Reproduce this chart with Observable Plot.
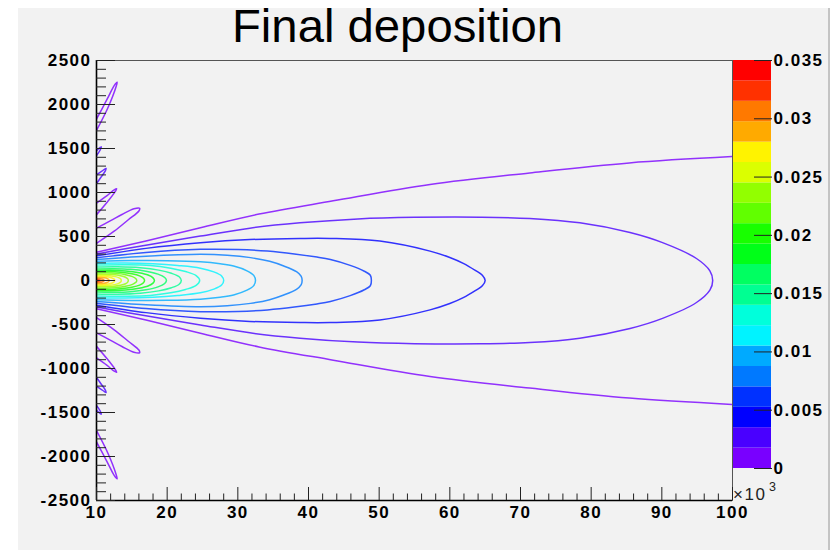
<!DOCTYPE html>
<html><head><meta charset="utf-8">
<script src="https://cdn.jsdelivr.net/npm/d3@7"></script>
<script src="https://cdn.jsdelivr.net/npm/@observablehq/plot@0.6"></script>
<style>
html,body{margin:0;padding:0;background:#fff;}
#wrap{position:relative;width:838px;height:550px;overflow:hidden;background:#fff;font-family:"Liberation Sans",Arial,sans-serif;}
#pad{position:absolute;left:18px;top:8px;width:810px;height:542px;background:#f2f2f2;border-right:2px solid #c4c4c4;}
#main,#bar,#title{position:absolute;top:0;}
#main{left:0;}
#bar{left:733px;}
#title{left:0;}
#main svg text,#bar svg text{letter-spacing:1.5px;}
</style></head><body>
<div id="wrap">
<div id="pad"></div>
<div id="main"></div>
<div id="bar"></div>
<svg id="title" width="838" height="550" style="pointer-events:none">
<text x="397.5" y="42" text-anchor="middle" font-family="Liberation Sans, Arial, sans-serif" font-size="46" textLength="331" lengthAdjust="spacingAndGlyphs" fill="#000">Final deposition</text>
<text x="733" y="500" font-family="Liberation Sans, Arial, sans-serif" font-size="17" letter-spacing="1.5" fill="#222">×10</text>
<text x="769" y="490.5" font-family="Liberation Sans, Arial, sans-serif" font-size="12.5" fill="#222">3</text>
</svg>
</div>
<script>
// ---- axes / scale data ----
const xDomain = [10, 100];
const yDomain = [-2500, 2500];
const xTicks = [10, 20, 30, 40, 50, 60, 70, 80, 90, 100];
const xTickLabels = ["10", "20", "30", "40", "50", "60", "70", "80", "90", "100"];
const yTicks = [-2500, -2000, -1500, -1000, -500, 0, 500, 1000, 1500, 2000, 2500];
const yTickLabels = ["-2500", "-2000", "-1500", "-1000", "-500", "0", "500", "1000", "1500", "2000", "2500"];
const cbTicks = [0, 0.005, 0.01, 0.015, 0.02, 0.025, 0.03, 0.035];
const cbTickLabels = ["0", "0.005", "0.01", "0.015", "0.02", "0.025", "0.03", "0.035"];

// contour level boundaries (20 bands)
const levels = [0, 0.00175, 0.0035, 0.00525, 0.007, 0.00875, 0.0105, 0.01225, 0.014, 0.01575, 0.0175,
  0.01925, 0.021, 0.02275, 0.0245, 0.02625, 0.028, 0.02975, 0.0315, 0.03325, 0.035];
const bandColors = ["#7900ff", "#4900ff", "#0000ff", "#0031ff", "#0079ff", "#00aaff", "#00f3ff", "#00ffdb",
  "#00ff92", "#00ff61", "#00ff18", "#18ff00", "#61ff00", "#92ff00", "#dbff00", "#fff300", "#ffaa00",
  "#ff7900", "#ff3100", "#ff0000"];

// ---- contour lines: upper halves [x (10^3), y], mirrored for the lower half ----
const contour01 = [[10,320],[17,450],[24.7,599],[33,755],[43.5,905],[57.2,1091],[71.3,1222],[85.4,1336],[100,1408]];
const contour02 = [[10,300],[17.6,410],[24.7,505],[31.7,595],[38.8,655],[47,700],[55,718],[64.3,720],[71.3,705],[78.4,655],[85.5,545],[90.1,430],[94.9,250],[96.8,110],[97.2,0]];
const contour03 = [[10,280],[17,365],[24.7,429],[31.7,465],[38.8,478],[43.1,478],[50.1,448],[57.2,334],[60,262],[61.9,195],[63.6,115],[64.6,60],[65,0]];
const contour04 = [[10,258],[17,318],[24.7,354],[30,352],[34.2,334],[38,302],[41.2,266],[43.1,238],[45.9,172],[47.9,105],[48.75,60],[48.9,0]];
const contour05 = [[10,238],[17,275],[24.7,297],[28.5,287],[31.8,260],[34.5,218],[36.5,165],[38.3,100],[38.95,50],[39.1,0]];
const contour06 = [[10,218],[15,226],[20,225],[24.7,212],[27.5,190],[29.4,164],[31.3,110],[32.25,58],[32.5,0]];
const contour07 = [[10,196],[14,200],[18,190],[21.5,170],[24.7,140],[26.6,98],[27.7,52],[28,0]];
const contour08 = [[10,175],[14,178],[17.6,170],[20.5,140],[22.6,102],[24.1,56],[24.6,0]];
const contour09 = [[10,153],[13,156],[16.2,145],[18.8,118],[20.6,82],[21.7,42],[22,0]];
const contour10 = [[10,132],[12.5,134],[14.8,127],[17,105],[18.7,72],[19.65,34],[19.9,0]];
const contour11 = [[10,115],[12,117],[14.1,108],[16,88],[17.3,62],[18,30],[18.2,0]];
const contour12 = [[10,100],[11.7,101],[13.4,93],[15,76],[16.1,52],[16.65,25],[16.8,0]];
const contour13 = [[10,85],[11.4,87],[12.8,81],[14.1,66],[15.1,44],[15.58,21],[15.7,0]];
const contour14 = [[10,70],[11.2,72],[12.3,68],[13.4,55],[14.1,37],[14.42,18],[14.5,0]];
const contour15 = [[10,56],[11,59],[11.9,55],[12.7,44],[13.2,29],[13.45,14],[13.5,0]];
const contour16 = [[10,44],[10.8,46],[11.5,42],[12.1,32],[12.45,18],[12.6,0]];
const contour17 = [[10,32],[10.6,34],[11.1,30],[11.5,22],[11.75,10],[11.8,0]];
const contour18 = [[10,21],[10.5,21],[10.85,14],[11.05,6],[11.1,0]];
const contour19 = [[10,10],[10.3,9],[10.5,4],[10.56,0]];

// side lobes near the left edge (upper ones; lower ones mirrored)
const lobeA = [[10,595],[12,680],[13.6,750],[15.3,815],[16.1,820],[16.0,790],[14.5,690],[12.5,560],[10,422]];
const lobeB = [[10,880],[11.5,965],[12.5,1030],[12.85,1042],[12.6,1005],[11.5,890],[10,748]];
const lobeC = [[10,1200],[10.9,1250],[11.35,1274],[11.25,1245],[10.6,1170],[10,1100]];
const lobeD = [[10,1475],[10.5,1510],[10.68,1518],[10.5,1480],[10,1420]];
const lobeE = [[10,1835],[11.5,2060],[12.5,2215],[12.92,2254],[12.8,2210],[11.6,1960],[10,1706]];
const lobeLevels = [1, 1, 2, 2, 1];

// ---- build line table ----
const contours = [contour01, contour02, contour03, contour04, contour05, contour06, contour07, contour08, contour09, contour10,
  contour11, contour12, contour13, contour14, contour15, contour16, contour17, contour18, contour19];
const lobes = [lobeA, lobeB, lobeC, lobeD, lobeE];
const rows = [];
contours.forEach((pts, i) => {
  const k = i + 1;
  if (k === 1) {
    pts.forEach(([x, y]) => rows.push({id: "c1u", x, y, k}));
    pts.forEach(([x, y]) => rows.push({id: "c1l", x, y: -y, k}));
  } else {
    pts.forEach(([x, y]) => rows.push({id: "c" + k, x, y, k}));
    pts.slice(0, -1).reverse().forEach(([x, y]) => rows.push({id: "c" + k, x, y: -y, k}));
  }
});
lobes.forEach((pts, i) => {
  const k = lobeLevels[i];
  pts.forEach(([x, y]) => rows.push({id: "l" + i + "u", x, y, k}));
  pts.forEach(([x, y]) => rows.push({id: "l" + i + "l", x, y: -y, k}));
});

const yMinor = d3.range(-2500, 2501, 100).filter(v => !yTicks.includes(v));
const xMinor = d3.range(10, 101, 2).filter(v => !xTicks.includes(v));

const main = Plot.plot({
  width: 838, height: 550,
  marginLeft: 96, marginRight: 106, marginTop: 60, marginBottom: 50,
  x: {domain: xDomain},
  y: {domain: yDomain},
  color: {type: "identity"},
  style: {background: "transparent", fontFamily: "Liberation Sans, Arial, sans-serif", overflow: "visible", color: "#000"},
  marks: [
    Plot.line(rows, {x: "x", y: "y", z: "id", stroke: d => bandColors[d.k - 1], curve: "catmull-rom", strokeWidth: 1.5, strokeOpacity: 0.8, clip: true}),
    Plot.frame({stroke: "#555", strokeWidth: 1}),
    Plot.ruleX([10], {stroke: "#000", strokeWidth: 1.6}),
    Plot.ruleY([-2500], {stroke: "#000", strokeWidth: 1.6}),
    Plot.axisY(yMinor, {anchor: "left", tickSize: 10, dx: 10, tickFormat: () => "", label: null, stroke: "#222"}),
    Plot.axisY(yTicks, {anchor: "left", tickSize: 19, dx: 19, tickFormat: () => "", label: null, stroke: "#222"}),
    Plot.axisY(yTicks, {anchor: "left", tickSize: 0, tickPadding: 5, tickFormat: d => yTickLabels[yTicks.indexOf(d)], label: null, fontSize: 17, fontWeight: "bold"}),
    Plot.axisX(xMinor, {anchor: "bottom", tickSize: 6.5, dy: -6.5, tickFormat: () => "", label: null, stroke: "#222"}),
    Plot.axisX(xTicks, {anchor: "bottom", tickSize: 13, dy: -13, tickFormat: () => "", label: null, stroke: "#222"}),
    Plot.axisX(xTicks, {anchor: "bottom", tickSize: 0, tickPadding: 5, tickFormat: d => xTickLabels[xTicks.indexOf(d)], label: null, fontSize: 17, fontWeight: "bold"})
  ]
});
document.getElementById("main").appendChild(main);

const bandRows = bandColors.map((c, i) => ({lo: levels[i], hi: levels[i + 1], color: c}));
const bar = Plot.plot({
  width: 105, height: 550,
  marginLeft: 0, marginRight: 67, marginTop: 60, marginBottom: 82,
  x: {domain: [0, 1], axis: null},
  y: {domain: [0, 0.035]},
  color: {type: "identity"},
  style: {background: "transparent", fontFamily: "Liberation Sans, Arial, sans-serif", overflow: "visible", color: "#000"},
  marks: [
    Plot.rect(bandRows, {x1: () => 0, x2: () => 1, y1: "lo", y2: "hi", fill: "color", inset: 0}),
    Plot.axisY(cbTicks, {anchor: "right", tickSize: 18, dx: -18, tickFormat: () => "", label: null, stroke: "#222"}),
    Plot.axisY(cbTicks, {anchor: "right", tickSize: 0, tickPadding: 2, tickFormat: d => cbTickLabels[cbTicks.indexOf(d)], label: null, fontSize: 17, fontWeight: "bold"})
  ]
});
document.getElementById("bar").appendChild(bar);
</script>
</body></html>
